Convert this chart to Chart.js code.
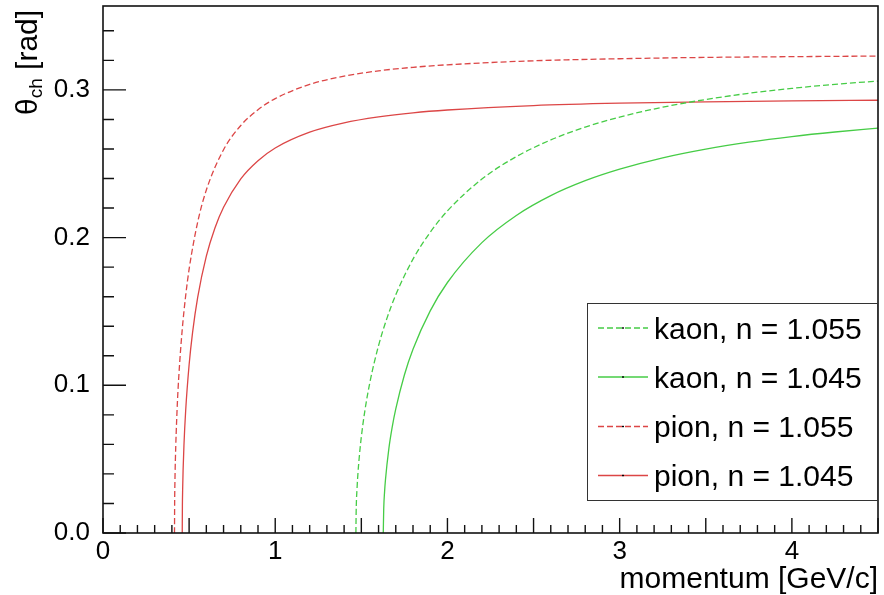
<!DOCTYPE html>
<html>
<head>
<meta charset="utf-8">
<script src="https://cdn.jsdelivr.net/npm/chart.js@4.4.1/dist/chart.umd.min.js"></script>
<style>
  html, body { margin: 0; padding: 0; background: #fff; }
  canvas { display: block; }
</style>
</head>
<body>
<canvas id="cherenkovChart" width="884" height="595"></canvas>
<script>
// momentum [GeV/c] and Cherenkov angle [rad]
const kaonP1055 = [1.4685, 1.47, 1.475, 1.48, 1.49, 1.5, 1.52, 1.55, 1.6, 1.65, 1.7, 1.8, 1.9, 2.0, 2.2, 2.4, 2.6, 2.8, 3.0, 3.25, 3.5, 3.75, 4.0, 4.25, 4.5];
const kaonTheta1055 = [0, 0.0147, 0.0300, 0.0398, 0.0540, 0.0651, 0.0824, 0.1022, 0.1269, 0.1458, 0.1613, 0.1854, 0.2036, 0.2181, 0.2396, 0.2548, 0.2661, 0.2748, 0.2816, 0.2883, 0.2935, 0.2977, 0.3010, 0.3038, 0.3060];

const kaonP1045 = [1.6274, 1.63, 1.635, 1.64, 1.66, 1.68, 1.7, 1.75, 1.8, 1.9, 2.0, 2.2, 2.4, 2.6, 2.8, 3.0, 3.25, 3.5, 3.75, 4.0, 4.25, 4.5];
const kaonTheta1045 = [0, 0.0164, 0.0280, 0.0359, 0.0573, 0.0722, 0.0840, 0.1070, 0.1244, 0.1504, 0.1696, 0.1966, 0.2150, 0.2284, 0.2385, 0.2463, 0.2540, 0.2599, 0.2646, 0.2684, 0.2715, 0.2741];

const pionP1055 = [0.4152, 0.416, 0.4175, 0.42, 0.43, 0.44, 0.46, 0.48, 0.5, 0.55, 0.6, 0.7, 0.8, 0.9, 1.0, 1.2, 1.4, 1.6, 1.8, 2.0, 2.5, 3.0, 3.5, 4.0, 4.5];
const pionTheta1055 = [0, 0.0203, 0.0337, 0.0483, 0.0831, 0.1058, 0.1377, 0.1606, 0.1786, 0.2106, 0.2322, 0.2595, 0.2759, 0.2866, 0.2941, 0.3037, 0.3093, 0.3129, 0.3153, 0.3170, 0.3197, 0.3211, 0.3220, 0.3225, 0.3229];

const pionP1045 = [0.4601, 0.461, 0.4625, 0.465, 0.47, 0.48, 0.5, 0.52, 0.55, 0.6, 0.65, 0.7, 0.8, 0.9, 1.0, 1.2, 1.4, 1.6, 1.8, 2.0, 2.5, 3.0, 3.5, 4.0, 4.5];
const pionTheta1045 = [0, 0.0182, 0.0296, 0.0421, 0.0593, 0.0828, 0.1139, 0.1357, 0.1597, 0.1874, 0.2065, 0.2205, 0.2398, 0.2521, 0.2607, 0.2714, 0.2777, 0.2817, 0.2845, 0.2864, 0.2894, 0.2910, 0.2919, 0.2926, 0.2930];

const seriesLabels = ['kaon, n = 1.055', 'kaon, n = 1.045', 'pion, n = 1.055', 'pion, n = 1.045'];

const xTickValues = [0, 1, 2, 3, 4];
const xTickLabels = ['0', '1', '2', '3', '4'];
const yTickValues = [0, 0.1, 0.2, 0.3];
const yTickLabels = ['0.0', '0.1', '0.2', '0.3'];

const RED = '#dc4646';
const GREEN = '#46cc46';
const FONT = '"Liberation Sans", Arial, Helvetica, sans-serif';

function points(xs, ys) {
    return xs.map((v, i) => ({ x: v, y: ys[i] }));
}

function curve(label, xs, ys, color, dashed) {
    return {
        label,
        data: points(xs, ys),
        borderColor: color,
        borderWidth: 1.3,
        borderDash: dashed ? [6, 3] : [],
        pointRadius: 0,
        fill: false,
        cubicInterpolationMode: 'monotone'
    };
}

// ROOT style frame, inward ticks, titles and legend box
const rootFrame = {
    id: 'rootFrame',
    afterDraw(chart) {
        const { ctx, chartArea: a, scales: { x, y } } = chart;
        ctx.save();

        ctx.strokeStyle = '#111';
        ctx.lineWidth = 1.6;
        ctx.strokeRect(a.left, a.top, a.right - a.left, a.bottom - a.top);

        ctx.lineWidth = 1.4;
        ctx.beginPath();
        for (let i = 0; i <= 45; i++) {
            const px = x.getPixelForValue(i / 10);
            const len = i % 5 === 0 ? 15 : 8;
            ctx.moveTo(px, a.bottom);
            ctx.lineTo(px, a.bottom - len);
        }
        for (let i = 0; i <= 17; i++) {
            const py = y.getPixelForValue(i * 0.02);
            const len = i % 5 === 0 ? 23 : 11;
            ctx.moveTo(a.left, py);
            ctx.lineTo(a.left + len, py);
        }
        ctx.stroke();

        // axis titles
        ctx.fillStyle = '#000';
        ctx.font = '30px ' + FONT;
        ctx.textAlign = 'right';
        ctx.textBaseline = 'alphabetic';
        ctx.fillText('momentum [GeV/c]', a.right, 588);

        ctx.save();
        ctx.translate(37, 115);
        ctx.rotate(-Math.PI / 2);
        ctx.textAlign = 'left';
        ctx.font = '30px ' + FONT;
        ctx.fillText('θ', 0, 0);
        let off = ctx.measureText('θ').width;
        ctx.font = '19px ' + FONT;
        ctx.fillText('ch', off, 5);
        off += ctx.measureText('ch').width;
        ctx.font = '30px ' + FONT;
        ctx.fillText(' [rad]', off, 0);
        ctx.restore();

        // legend
        const box = { left: 587, top: 303, right: a.right, bottom: 501 };
        ctx.fillStyle = '#fff';
        ctx.fillRect(box.left, box.top, box.right - box.left, box.bottom - box.top);
        ctx.strokeStyle = '#333';
        ctx.lineWidth = 1;
        ctx.strokeRect(box.left + 0.5, box.top + 0.5, box.right - box.left - 1, box.bottom - box.top - 1);

        const rows = [328, 377, 426.5, 475.5];
        chart.data.datasets.forEach((ds, i) => {
            const ly = rows[i];
            ctx.strokeStyle = ds.borderColor;
            ctx.lineWidth = 1.3;
            ctx.setLineDash(ds.borderDash);
            ctx.beginPath();
            ctx.moveTo(598, ly);
            ctx.lineTo(648, ly);
            ctx.stroke();
            ctx.setLineDash([]);
            ctx.fillStyle = '#000';
            ctx.fillRect(622, ly - 0.7, 2, 1.4);
            ctx.font = '30px ' + FONT;
            ctx.textAlign = 'left';
            ctx.textBaseline = 'alphabetic';
            ctx.fillText(ds.label, 654, ly + 10.5);
        });

        ctx.restore();
    }
};

new Chart(document.getElementById('cherenkovChart'), {
    type: 'line',
    data: {
        datasets: [
            curve(seriesLabels[0], kaonP1055, kaonTheta1055, GREEN, true),
            curve(seriesLabels[1], kaonP1045, kaonTheta1045, GREEN, false),
            curve(seriesLabels[2], pionP1055, pionTheta1055, RED, true),
            curve(seriesLabels[3], pionP1045, pionTheta1045, RED, false)
        ]
    },
    options: {
        responsive: false,
        animation: false,
        events: [],
        layout: { padding: { top: 6, right: 6, left: 0, bottom: 0 } },
        plugins: {
            legend: { display: false },
            tooltip: { enabled: false }
        },
        scales: {
            x: {
                type: 'linear',
                min: 0,
                max: 4.5,
                afterBuildTicks: s => { s.ticks = xTickValues.map(v => ({ value: v })); },
                afterFit: s => {
                    s.height = 62;
                    s.paddingLeft = 0;
                    s.paddingRight = 0;
                },
                grid: { display: false, drawTicks: false },
                border: { display: false },
                ticks: {
                    color: '#000',
                    font: { family: FONT, size: 26 },
                    padding: 3,
                    maxRotation: 0,
                    autoSkip: false,
                    callback: (v, i) => xTickLabels[i]
                }
            },
            y: {
                type: 'linear',
                min: 0,
                max: 0.3568,
                afterBuildTicks: s => { s.ticks = yTickValues.map(v => ({ value: v })); },
                afterFit: s => {
                    s.width = 103;
                    s.paddingTop = 0;
                    s.paddingBottom = 0;
                },
                grid: { display: false, drawTicks: false },
                border: { display: false },
                ticks: {
                    color: '#000',
                    font: { family: FONT, size: 26 },
                    padding: 13,
                    autoSkip: false,
                    callback: (v, i) => yTickLabels[i]
                }
            }
        }
    },
    plugins: [rootFrame]
});
</script>
</body>
</html>
